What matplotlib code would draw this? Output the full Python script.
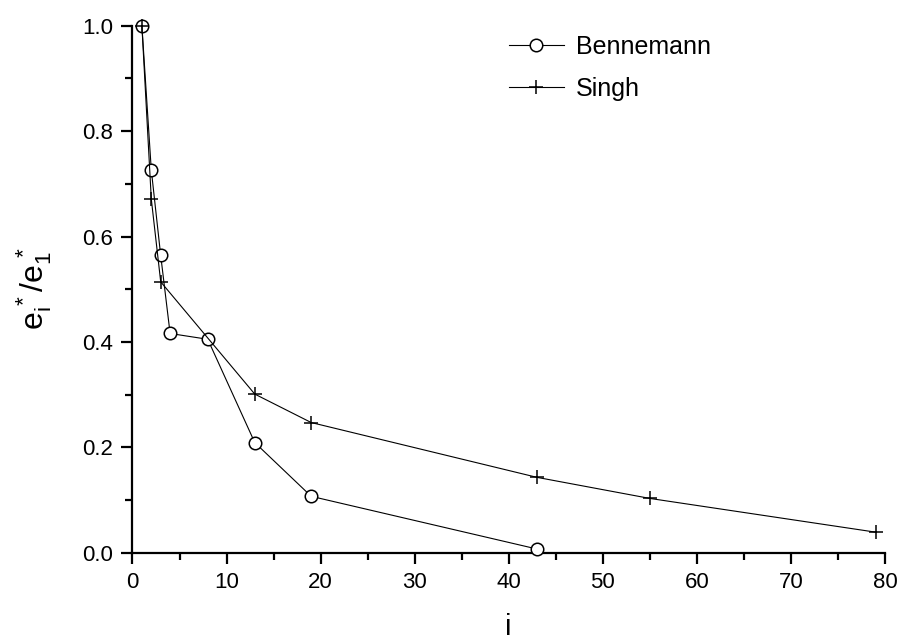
import numpy as np
import matplotlib
matplotlib.use("Agg")
import matplotlib.pyplot as plt
from matplotlib.ticker import MultipleLocator

plt.rcParams['font.family'] = ['Liberation Sans', 'DejaVu Sans']
plt.rcParams['mathtext.fontset'] = 'custom'
plt.rcParams['mathtext.rm'] = 'Liberation Sans'
plt.rcParams['mathtext.it'] = 'Liberation Sans'

#===Data===#
benn_i = [1, 2, 3, 4, 8, 13, 19, 43]
benn_e = [1.0, 0.726, 0.564, 0.416, 0.405, 0.209, 0.107, 0.007]

singh_i = [1, 2, 3, 13, 19, 43, 55, 79]
singh_e = [1.0, 0.671, 0.514, 0.301, 0.247, 0.143, 0.103, 0.039]

#===Figure===#
fig = plt.figure(figsize=(8.97, 6.4), dpi=100)
ax = fig.add_axes([0.1477, 0.1364, 0.8389, 0.8234])

ax.plot(benn_i, benn_e, '-', color='black', lw=0.8, marker='o', ms=9,
        mfc='white', mec='black', mew=1.1, label='Bennemann', clip_on=False, zorder=3)
ax.plot(singh_i, singh_e, '-', color='black', lw=0.8, marker='+', ms=10,
        mec='black', mew=1.1, label='Singh', clip_on=False, zorder=4)

#===Axes===#
ax.set_xlim(0, 80)
ax.set_ylim(0, 1.0)
ax.xaxis.set_major_locator(MultipleLocator(10))
ax.xaxis.set_minor_locator(MultipleLocator(5))
ax.yaxis.set_major_locator(MultipleLocator(0.2))
ax.yaxis.set_minor_locator(MultipleLocator(0.1))
ax.yaxis.set_major_formatter(plt.FormatStrFormatter('%.1f'))

for s in ['top', 'right']:
    ax.spines[s].set_visible(False)
for s in ['left', 'bottom']:
    ax.spines[s].set_linewidth(1.6)

ax.tick_params(which='major', direction='out', length=8, width=1.6, labelsize=16, pad=6)
ax.tick_params(which='minor', direction='out', length=5, width=1.6)

ax.set_xlabel('i', fontsize=21, labelpad=14)
ax.set_ylabel(r'$\mathregular{e_i^{\,*}/e_1^{\,*}}$', fontsize=23, labelpad=20)

leg = ax.legend(loc='upper left', bbox_to_anchor=(0.47, 1.025), frameon=False,
                fontsize=18, handlelength=2.2, handletextpad=0.5, labelspacing=0.72)

plt.savefig("out.png", dpi=100)
